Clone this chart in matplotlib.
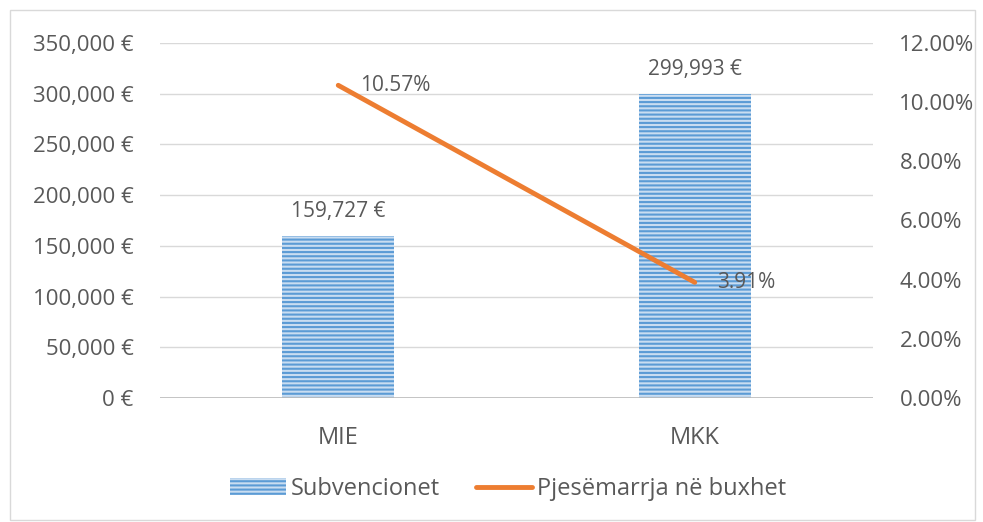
import matplotlib
matplotlib.use("Agg")
import matplotlib.pyplot as plt
from matplotlib.patches import Rectangle
from matplotlib.lines import Line2D
from matplotlib.ticker import FuncFormatter

plt.rcParams['font.family'] = ['Open Sans', 'DejaVu Sans']
plt.rcParams['hatch.linewidth'] = 1.5

categories = ["MIE", "MKK"]
subvencionet = [159727, 299993]
pjesemarrja = [10.57, 3.91]
bar_label = "Subvencionet"
line_label = "Pjesëmarrja në buxhet"

text_color = "#595959"
bar_color = "#5b9bd5"
bar_bg = "#c9ddf1"
line_color = "#ed7d31"

fig = plt.figure(figsize=(9.83, 5.22), dpi=100)
W, H = 983, 522
ax = fig.add_axes([160 / W, 1 - 398 / H, (873 - 160) / W, (398 - 43) / H])
ax2 = ax.twinx()

x = list(range(len(categories)))
bars = ax.bar(x, subvencionet, width=0.314, color=bar_bg, edgecolor=bar_color,
              hatch="----", linewidth=0, zorder=2)
ax.set_xlim(-0.5, len(categories) - 0.5)
ax.set_ylim(0, 350000)
ax.set_yticks(range(0, 350001, 50000))
ax.yaxis.set_major_formatter(FuncFormatter(lambda v, p: f"{int(v):,} €"))
ax.grid(axis="y", color="#d9d9d9", linewidth=1, zorder=0)
ax.set_axisbelow(True)
ax.set_xticks(x)
ax.set_xticklabels(categories)

for xi, v in zip(x, subvencionet):
    ax.annotate(f"{v:,} €", (xi, v), xytext=(0, 10), textcoords="offset points",
                ha="center", va="bottom", fontsize=15, color=text_color)

ax2.plot(x, pjesemarrja, color=line_color, linewidth=3.5, solid_capstyle="round", zorder=3)
ax2.set_ylim(0, 12)
ax2.set_yticks([0, 2, 4, 6, 8, 10, 12])
ax2.yaxis.set_major_formatter(FuncFormatter(lambda v, p: f"{v:.2f}%"))
for xi, v in zip(x, pjesemarrja):
    ax2.annotate(f"{v:.2f}%", (xi, v), xytext=(16, 0), textcoords="offset points",
                 ha="left", va="center", fontsize=15, color=text_color)

for a in (ax, ax2):
    for s in ("top", "left", "right", "bottom"):
        a.spines[s].set_visible(False)
    a.tick_params(length=0, labelsize=16, labelcolor=text_color)
ax.tick_params(axis="y", pad=19)
ax2.tick_params(axis="y", pad=19)
ax.tick_params(axis="x", pad=20, labelsize=17)

ax.axhline(0, color="#bfbfbf", linewidth=2, zorder=4)

handles = [Rectangle((0, 0), 1, 1, facecolor=bar_bg, edgecolor=bar_color, hatch="----", linewidth=0),
           Line2D([0], [0], color=line_color, linewidth=3.5, solid_capstyle="round")]
fig.legend(handles, [bar_label, line_label], loc="center", bbox_to_anchor=(508 / W, 1 - 489 / H),
           ncol=2, frameon=False, fontsize=17, labelcolor=text_color, handlelength=2.4,
           handletextpad=0.2, columnspacing=1.5)

fig.patches.append(Rectangle((10 / W, 1 - 520 / H), 965 / W, 510 / H, transform=fig.transFigure,
                             fill=False, edgecolor="#d9d9d9", linewidth=1))

fig.savefig("out.png", dpi=100)
